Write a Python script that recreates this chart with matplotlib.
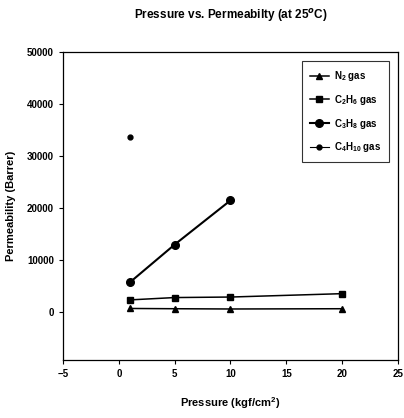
import matplotlib.pyplot as plt

pressure = [1, 5, 10, 20]
n2 = [600, 550, 500, 550]
c2h6 = [2250, 2700, 2800, 3450]
c3h8_p = [1, 5, 10]
c3h8 = [5650, 12900, 21400]
c4h10_p = [1]
c4h10 = [33600]

labels = ['N$_2$ gas', 'C$_2$H$_6$ gas', 'C$_3$H$_8$ gas', 'C$_4$H$_{10}$ gas']

plt.rcParams['font.family'] = ['Liberation Sans', 'DejaVu Sans']
plt.rcParams['font.weight'] = 'bold'
plt.rcParams['axes.labelweight'] = 'bold'
plt.rcParams['axes.titleweight'] = 'bold'
plt.rcParams['mathtext.fontset'] = 'custom'
plt.rcParams['mathtext.rm'] = 'Liberation Sans:bold'

fig = plt.figure(figsize=(4.04, 4.18), dpi=100)
ax = fig.add_axes([0.156, 0.139, 0.829, 0.737])

ax.plot(pressure, n2, 'k-', marker='^', ms=5, lw=1.1, label=labels[0])
ax.plot(pressure, c2h6, 'k-', marker='s', ms=5, lw=1.1, label=labels[1])
ax.plot(c3h8_p, c3h8, 'k-', marker='o', ms=5.5, lw=1.5, label=labels[2])
ax.plot(c4h10_p, c4h10, 'k-', marker='o', ms=3.5, lw=0.8, label=labels[3])

ax.set_xlim(-5, 25)
ax.set_ylim(-9300, 50000)
ax.set_xticks(range(-5, 26, 5))
ax.set_yticks(range(0, 50001, 10000))
ax.tick_params(labelsize=7, length=3, width=0.8, direction='out')
for s in ax.spines.values():
    s.set_linewidth(0.9)

ax.set_xlabel('Pressure (kgf/cm$^2$)', fontsize=8, labelpad=12)
ax.set_ylabel('Permeability (Barrer)', fontsize=8, labelpad=8)
ax.set_title('Pressure vs. Permeabilty (at 25$^o$C)', fontsize=8.5, pad=24)

leg = ax.legend(loc='upper right', fontsize=7, frameon=True, fancybox=False,
                edgecolor='black', handlelength=2.0, labelspacing=1.0,
                borderpad=0.8, handletextpad=0.5,
                bbox_to_anchor=(0.988, 0.985))
leg.get_frame().set_linewidth(0.8)

fig.savefig('out.png', dpi=100)
